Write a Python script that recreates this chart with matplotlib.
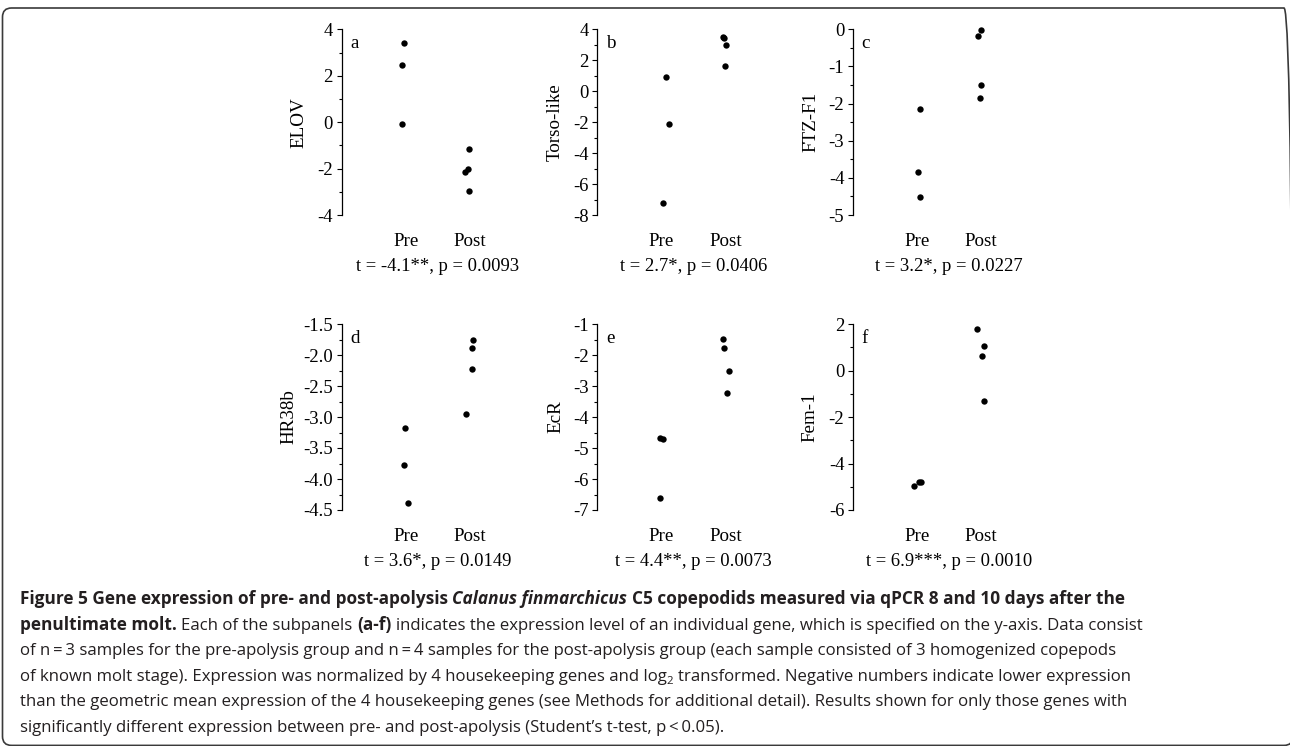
import matplotlib
matplotlib.use('Agg')
import matplotlib.pyplot as plt
from matplotlib.ticker import MultipleLocator, AutoMinorLocator, FormatStrFormatter
from matplotlib.patches import FancyBboxPatch
from matplotlib.transforms import IdentityTransform

plt.rcParams['axes.unicode_minus'] = False
plt.rcParams['font.family'] = ['Liberation Serif', 'DejaVu Serif']

W, H, DPI = 1290, 746, 100

# ---------------- data ----------------
categories = ['Pre', 'Post']
panel_letters = ['a', 'b', 'c', 'd', 'e', 'f']
genes = ['ELOV', 'Torso-like', 'FTZ-F1', 'HR38b', 'EcR', 'Fem-1']

pre_values = [
    [3.43, 2.45, -0.08],
    [0.94, -2.10, -7.25],
    [-2.14, -3.84, -4.52],
    [-3.17, -3.78, -4.38],
    [-4.69, -4.72, -6.62],
    [-4.95, -4.80, -4.78],
]
post_values = [
    [-1.16, -2.03, -2.13, -2.97],
    [3.50, 3.42, 3.01, 1.65],
    [-0.03, -0.18, -1.50, -1.84],
    [-1.75, -1.88, -2.22, -2.95],
    [-1.49, -1.76, -2.53, -3.23],
    [1.80, 1.04, 0.64, -1.30],
]
# horizontal scatter of the dots around each category (category units)
pre_jitter = [
    [-0.03, -0.06, -0.06],
    [0.07, 0.12, 0.02],
    [0.05, 0.01, 0.04],
    [-0.01, -0.02, 0.03],
    [-0.02, 0.03, -0.02],
    [-0.05, 0.03, 0.06],
]
post_jitter = [
    [-0.01, -0.02, -0.08, -0.01],
    [-0.04, -0.02, 0.01, 0.00],
    [0.00, -0.04, 0.00, -0.01],
    [0.05, 0.04, 0.03, -0.06],
    [-0.04, -0.02, 0.06, 0.03],
    [-0.06, 0.05, 0.02, 0.04],
]
stat_labels = [
    't = -4.1**, p = 0.0093',
    't = 2.7*, p = 0.0406',
    't = 3.2*, p = 0.0227',
    't = 3.6*, p = 0.0149',
    't = 4.4**, p = 0.0073',
    't = 6.9***, p = 0.0010',
]
y_limits = [(-4, 4), (-8, 4), (-5, 0), (-4.5, -1.5), (-7, -1), (-6, 2)]
y_major_step = [2, 2, 1, 0.5, 1, 2]
y_formats = ['%d', '%d', '%d', '%.1f', '%d', '%d']

caption_lines = [
    [("Figure 5 Gene expression of pre- and post-apolysis ", 'bold', 'normal'),
     ("Calanus finmarchicus", 'bold', 'italic'),
     (" C5 copepodids measured via qPCR 8 and 10 days after the", 'bold', 'normal')],
    [("penultimate molt.", 'bold', 'normal'),
     (" Each of the subpanels ", 'normal', 'normal'),
     ("(a-f)", 'bold', 'normal'),
     (" indicates the expression level of an individual gene, which is specified on the y-axis. Data consist", 'normal', 'normal')],
    [("of n\u2009=\u20093 samples for the pre-apolysis group and n\u2009=\u20094 samples for the post-apolysis group (each sample consisted of 3 homogenized copepods", 'normal', 'normal')],
    [("of known molt stage). Expression was normalized by 4 housekeeping genes and log", 'normal', 'normal'),
     ("2", 'sub', 'normal'),
     (" transformed. Negative numbers indicate lower expression", 'normal', 'normal')],
    [("than the geometric mean expression of the 4 housekeeping genes (see Methods for additional detail). Results shown for only those genes with", 'normal', 'normal')],
    [("significantly different expression between pre- and post-apolysis (Student\u2019s t-test, p\u2009<\u20090.05).", 'normal', 'normal')],
]

# ---------------- layout ----------------
spine_x_px = [341.7, 597.3, 853.0, 341.7, 597.3, 853.0]
top_px = [29.3, 29.3, 29.3, 324.0, 324.0, 324.0]
bot_px = [215.0, 215.0, 215.0, 510.0, 510.0, 510.0]
ylabel_off_px = [34.3, 33.2, 33.6, 44.6, 33.2, 34.2]
X_MAX = 2.6
PX_PER_UNIT = 64.0
FS = 13.4

fig = plt.figure(figsize=(W / DPI, H / DPI), dpi=DPI)
fig.patch.set_facecolor('white')

for i in range(6):
    wpx = X_MAX * PX_PER_UNIT
    hpx = bot_px[i] - top_px[i]
    ax = fig.add_axes([spine_x_px[i] / W, 1 - bot_px[i] / H, wpx / W, hpx / H])
    ax.set_facecolor('none')
    xs_pre = [1 + d for d in pre_jitter[i]]
    xs_post = [2 + d for d in post_jitter[i]]
    ax.scatter(xs_pre, pre_values[i], s=21, color='black', linewidths=0, zorder=3, clip_on=False)
    ax.scatter(xs_post, post_values[i], s=21, color='black', linewidths=0, zorder=3, clip_on=False)
    ax.set_xlim(0, X_MAX)
    ax.set_ylim(*y_limits[i])
    for s in ['top', 'right', 'bottom']:
        ax.spines[s].set_visible(False)
    ax.spines['left'].set_linewidth(0.9)
    ax.yaxis.set_major_locator(MultipleLocator(y_major_step[i]))
    ax.yaxis.set_minor_locator(AutoMinorLocator(2))
    ax.yaxis.set_major_formatter(FormatStrFormatter(y_formats[i]))
    ax.tick_params(axis='y', which='major', length=3.3, width=0.8, direction='out', labelsize=FS, pad=3.0)
    ax.tick_params(axis='y', which='minor', length=2.0, width=0.8, direction='out')
    ax.set_xticks([1, 2], categories)
    ax.tick_params(axis='x', length=0, labelsize=FS + 0.3, pad=13.0)
    ax.set_ylabel(genes[i], fontsize=FS + 0.3)
    ax.yaxis.set_label_coords(-ylabel_off_px[i] / wpx, 0.5)
    ax.text(8.5 / wpx, 1 - 18.7 / hpx, panel_letters[i], transform=ax.transAxes,
            fontsize=FS + 0.3, va='baseline', ha='left')
    ax.text(1.5, -56.0 / hpx, stat_labels[i], transform=ax.get_xaxis_transform(),
            fontsize=FS, ha='center', va='baseline')

# ---------------- frame ----------------
frame = FancyBboxPatch((2.5, 0.6), 1290.5, 746 - 8 - 0.6,
                       boxstyle='round,pad=0,rounding_size=9',
                       transform=IdentityTransform(), fill=False,
                       edgecolor='#3a3a3a', linewidth=1.2)
fig.add_artist(frame)

# ---------------- caption ----------------
CAP_FONT = ['Open Sans', 'DejaVu Sans']
CAP_COLOR = '#231f20'
renderer = fig.canvas.get_renderer()


def adv(s, size, weight, style):
    t = fig.text(0, 0, '|' + s + '|', fontsize=size, fontweight=weight,
                 fontstyle=style, family=CAP_FONT)
    w = t.get_window_extent(renderer).width
    t.remove()
    t = fig.text(0, 0, '||', fontsize=size, fontweight=weight,
                 fontstyle=style, family=CAP_FONT)
    w0 = t.get_window_extent(renderer).width
    t.remove()
    return w - w0


def seg_size(base_size, wt):
    return base_size * (BOLD_SCALE if wt == 'bold' else 1.0)


# fit the size so lines 1 and 2 span the same width as in the reference
base = 10.0
BOLD_SCALE = 1.0
w1 = sum(adv(s, base, wt, st) for s, wt, st in caption_lines[0])
w2 = sum(adv(s, base, wt if wt != 'sub' else 'normal', st) for s, wt, st in caption_lines[1])
cap_size = base * (1143 - 20) / w2
BOLD_SCALE = ((1125 - 20) / w1) / ((1143 - 20) / w2)

x0 = 20
baseline0 = 604.0
line_gap = 25.6
for li, line in enumerate(caption_lines):
    x = x0
    yb = baseline0 + li * line_gap
    for s, wt, st in line:
        if wt == 'sub':
            size = cap_size * 0.68
            fig.text(x / W, 1 - (yb + 0.22 * cap_size * DPI / 72) / H, s, fontsize=size,
                     family=CAP_FONT, color=CAP_COLOR, va='baseline', ha='left')
            x += adv(s, size, 'normal', 'normal')
            continue
        size = seg_size(cap_size, wt)
        nl = len(s) - len(s.lstrip(' '))
        nt = len(s) - len(s.rstrip(' '))
        core = s.strip(' ')
        sp = adv(' ', size, wt, st)
        x += nl * sp
        fig.text(x / W, 1 - yb / H, core, fontsize=size, fontweight=wt, fontstyle=st,
                 family=CAP_FONT, color=CAP_COLOR, va='baseline', ha='left')
        x += adv(core, size, wt, st)
        x += nt * sp

fig.savefig('out.png', dpi=DPI, facecolor='white')
